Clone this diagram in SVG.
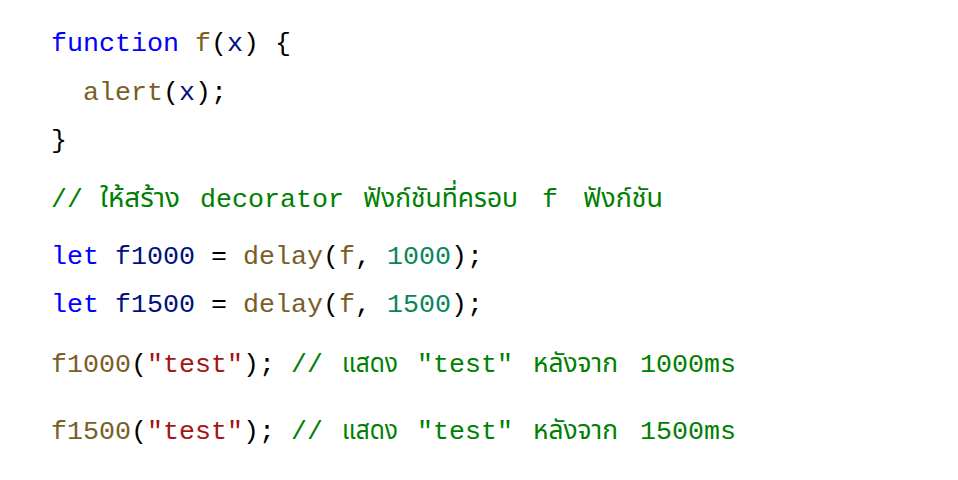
<svg xmlns="http://www.w3.org/2000/svg" width="958" height="480" viewBox="0 0 958 480">
<style>
text { font-family: "Liberation Mono", "DejaVu Sans Mono", "Noto Sans Thai", "Noto Sans", monospace; font-size: 26.67px; white-space: pre; fill: #000000; }
.th { font-family: "Noto Sans Thai", "Noto Sans", "Liberation Sans", sans-serif; }
.kw { fill: #0000ff; }
.fn { fill: #795e26; }
.va { fill: #001080; }
.nu { fill: #098658; }
.st { fill: #a31515; }
.cm { fill: #008000; }
</style>
<rect width="958" height="480" fill="#ffffff"/>
<g id="code">
<text x="51" y="51"><tspan class="kw">function</tspan> <tspan class="fn">f</tspan>(<tspan class="va">x</tspan>) {</text>
<text x="83" y="100"><tspan class="fn">alert</tspan>(<tspan class="va">x</tspan>);</text>
<text x="51" y="148">}</text>
<text x="51" y="207" class="cm">// </text>
<text x="100" y="207" class="cm th" textLength="80" lengthAdjust="spacingAndGlyphs">ให้สร้าง</text>
<text x="184" y="207" class="cm"> decorator </text>
<text x="363" y="207" class="cm th" textLength="155" lengthAdjust="spacingAndGlyphs">ฟังก์ชันที่ครอบ</text>
<text x="526" y="207" class="cm"> f </text>
<text x="583" y="207" class="cm th" textLength="80" lengthAdjust="spacingAndGlyphs">ฟังก์ชัน</text>
<text x="51" y="264"><tspan class="kw">let</tspan> <tspan class="va">f1000</tspan> = <tspan class="fn">delay</tspan>(<tspan class="fn">f</tspan>, <tspan class="nu">1000</tspan>);</text>
<text x="51" y="312"><tspan class="kw">let</tspan> <tspan class="va">f1500</tspan> = <tspan class="fn">delay</tspan>(<tspan class="fn">f</tspan>, <tspan class="nu">1500</tspan>);</text>
<text x="51" y="372"><tspan class="fn">f1000</tspan>(<tspan class="st">"test"</tspan>); <tspan class="cm">// </tspan></text>
<text x="342" y="372" class="cm th" textLength="56" lengthAdjust="spacingAndGlyphs">แสดง</text>
<text x="401" y="372" class="cm"> "test" </text>
<text x="533" y="372" class="cm th" textLength="85" lengthAdjust="spacingAndGlyphs">หลังจาก</text>
<text x="624" y="372" class="cm"> 1000ms</text>
<text x="51" y="439"><tspan class="fn">f1500</tspan>(<tspan class="st">"test"</tspan>); <tspan class="cm">// </tspan></text>
<text x="342" y="439" class="cm th" textLength="56" lengthAdjust="spacingAndGlyphs">แสดง</text>
<text x="401" y="439" class="cm"> "test" </text>
<text x="533" y="439" class="cm th" textLength="85" lengthAdjust="spacingAndGlyphs">หลังจาก</text>
<text x="624" y="439" class="cm"> 1500ms</text>
</g>
</svg>
